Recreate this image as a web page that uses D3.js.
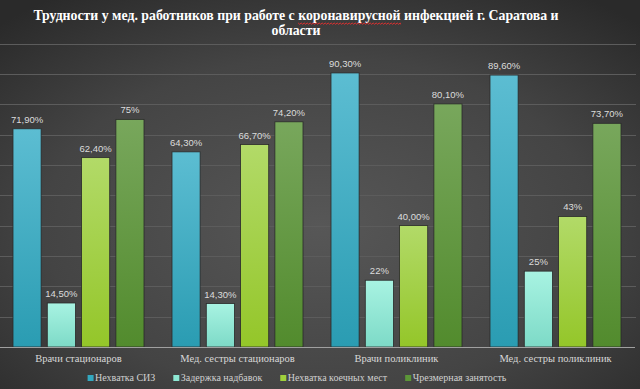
<!DOCTYPE html>
<html><head><meta charset="utf-8">
<script src="https://cdn.jsdelivr.net/npm/d3@7"></script>
<style>html,body{margin:0;padding:0;background:#333;}svg{display:block;}
.serif{font-family:"Liberation Serif","DejaVu Serif",serif;}
.sans{font-family:"Liberation Sans",Arial,sans-serif;}
</style>
</head><body>
<script>
const categories = ["Врачи стационаров", "Мед. сестры стационаров", "Врачи поликлиник", "Мед. сестры поликлиник"];
const seriesNames = ["Нехватка СИЗ", "Задержка надбавок", "Нехватка коечных мест", "Чрезмерная занятость"];
const valuesSIZ = [71.9, 64.3, 90.3, 89.6];
const valuesDelay = [14.5, 14.3, 22, 25];
const valuesBeds = [62.4, 66.7, 40.0, 43];
const valuesBusy = [75, 74.2, 80.1, 73.7];
const labelsSIZ = ["71,90%", "64,30%", "90,30%", "89,60%"];
const labelsDelay = ["14,50%", "14,30%", "22%", "25%"];
const labelsBeds = ["62,40%", "66,70%", "40,00%", "43%"];
const labelsBusy = ["75%", "74,20%", "80,10%", "73,70%"];
const yTicks = [0,10,20,30,40,50,60,70,80,90,100];
const titleLine1 = ["Трудности у мед. работников при работе с ", "коронавирусной", " инфекцией г. Саратова и"];
const titleLine2 = "области";

const W = 640, H = 389;
const seriesValues = [valuesSIZ, valuesDelay, valuesBeds, valuesBusy];
const seriesLabels = [labelsSIZ, labelsDelay, labelsBeds, labelsBusy];
const colors = [
  ["#5cbdd2", "#2a9cb2"],
  ["#a8f3e2", "#7ddac7"],
  ["#b2da68", "#94c629"],
  ["#78a75c", "#528b2d"]
];
const legendColors = ["#33a8c0", "#8ee8d4", "#9fd03c", "#5c9638"];

const svg = d3.select("body").append("svg").attr("width", W).attr("height", H);
const defs = svg.append("defs");
const bg = defs.append("radialGradient").attr("id","bg").attr("cx","50%").attr("cy","58%").attr("r","72%");
bg.append("stop").attr("offset","0%").attr("stop-color","#575757");
bg.append("stop").attr("offset","60%").attr("stop-color","#444444");
bg.append("stop").attr("offset","100%").attr("stop-color","#2a2a2a");
svg.append("rect").attr("width", W).attr("height", H).attr("fill", "url(#bg)");

colors.forEach((c,i) => {
  const g = defs.append("linearGradient").attr("id","g"+i).attr("x1",0).attr("y1",0).attr("x2",0).attr("y2",1);
  g.append("stop").attr("offset","0%").attr("stop-color",c[0]);
  g.append("stop").attr("offset","100%").attr("stop-color",c[1]);
});

const y = d3.scaleLinear().domain([0,100]).range([347, 43.5]);
const x0 = d3.scaleBand().domain(categories).range([-1, 635]).paddingInner(0).paddingOuter(0);
const x1 = d3.scaleBand().domain(d3.range(4)).range([14, x0.bandwidth()-14]).paddingInner(0.18).paddingOuter(0);

// gridlines
svg.append("g").selectAll("line").data(yTicks.filter(d=>d>0)).join("line")
  .attr("x1", 0).attr("x2", 636)
  .attr("y1", d=>Math.round(y(d))+0.5).attr("y2", d=>Math.round(y(d))+0.5)
  .attr("stroke", "#5c5c5c").attr("stroke-width", 1);

// bars
const groups = svg.append("g").selectAll("g").data(categories).join("g")
  .attr("transform", d=>`translate(${x0(d)},0)`);
groups.each(function(cat, ci){
  const g = d3.select(this);
  const data = seriesValues.map((vals, si) => ({si, v: vals[ci], label: seriesLabels[si][ci]}));
  g.selectAll("rect").data(data).join("rect")
    .attr("x", d=>x1(d.si)).attr("width", x1.bandwidth())
    .attr("y", d=>y(d.v)).attr("height", d=>y(0)-y(d.v))
    .attr("fill", d=>`url(#g${d.si})`)
    .attr("stroke", "#2a2a2a").attr("stroke-width", 0.8);
  g.selectAll("text").data(data).join("text")
    .attr("class","sans")
    .attr("x", d=>x1(d.si)+x1.bandwidth()/2).attr("y", d=>y(d.v)-6)
    .attr("text-anchor","middle")
    .attr("font-size","9.5px")
    .attr("fill","#dcdcdc").text(d=>d.label);
});

// axis line
svg.append("line").attr("x1",0).attr("x2",635).attr("y1",y(0)+0.5).attr("y2",y(0)+0.5)
  .attr("stroke","#a0a0a0").attr("stroke-width",1);

// category labels
const xAxis = d3.axisBottom(x0).tickSize(0).tickPadding(0);
const ax = svg.append("g").attr("transform",`translate(0,${y(0)})`).call(xAxis);
ax.select(".domain").remove();
ax.attr("font-family", null).attr("font-size", null);
ax.selectAll("text").attr("y", 15).attr("dy", 0)
  .attr("class","serif").attr("font-size","10.5px")
  .attr("fill","#d8d8d8");

// title
const title = svg.append("text").attr("class","serif").attr("x", 296).attr("y", 20).attr("text-anchor","middle")
  .attr("font-size","13.8px")
  .attr("font-weight","bold").attr("fill","#ffffff");
title.selectAll("tspan").data(titleLine1).join("tspan").text(d=>d);
svg.append("text").attr("class","serif").attr("x", 296).attr("y", 35).attr("text-anchor","middle")
  .attr("font-size","13.8px")
  .attr("font-weight","bold").attr("fill","#ffffff").text(titleLine2);
// red wavy underline under the spell-checked word
{
  const node = title.node();
  const start = titleLine1[0].length;
  const len = titleLine1[1].length;
  const a = node.getStartPositionOfChar(start).x;
  const b = node.getEndPositionOfChar(start+len-1).x;
  let p = `M${a},23`;
  for (let xx = a, k = 0; xx < b; xx += 1.5, k++) p += `L${Math.min(xx+1.5,b)},${k%2 ? 23 : 24.3}`;
  svg.append("path").attr("d", p).attr("fill","none").attr("stroke","#e03030").attr("stroke-width",1);
}

// legend
const legend = svg.append("g");
let lx = 0;
seriesNames.forEach((name, i) => {
  const it = legend.append("g");
  it.append("rect").attr("x", 0).attr("y", -6).attr("width", 6).attr("height", 6).attr("fill", legendColors[i]);
  const t = it.append("text").attr("class","serif").attr("x", 7.5).attr("y", 0)
    .attr("font-size","10px")
    .attr("fill","#d0d0d0").text(name);
  const w = 7.5 + t.node().getComputedTextLength();
  it.attr("transform", `translate(${lx},381)`);
  lx += w + 18;
});
const totalW = lx - 18;
legend.attr("transform", `translate(${297 - totalW/2},0)`);
</script>
</body></html>
